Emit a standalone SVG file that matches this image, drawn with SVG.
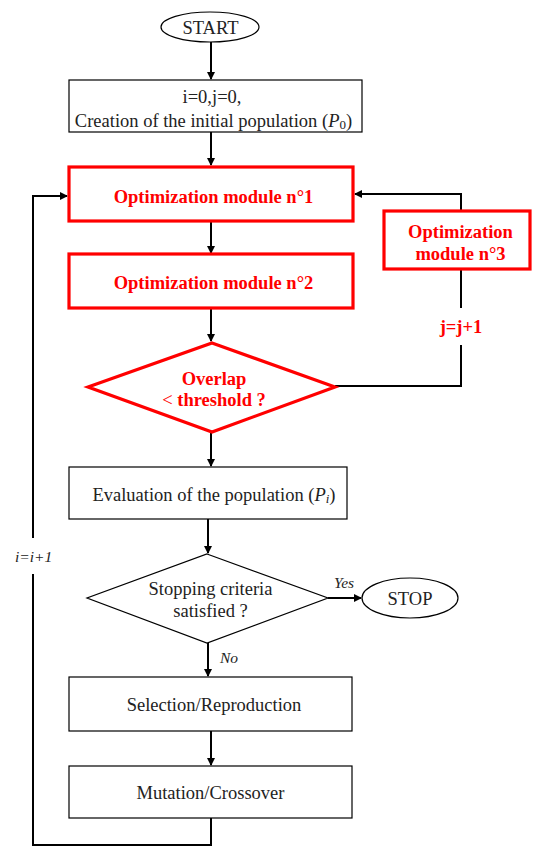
<svg xmlns="http://www.w3.org/2000/svg" width="533" height="848" viewBox="0 0 533 848">
<style>
.b{fill:#fff;stroke:#000;stroke-width:1.2}
.r{fill:#fff;stroke:#f00;stroke-width:3.2}
.t{font-family:"Liberation Serif",serif;font-size:18.5px;fill:#222;text-anchor:middle}
.rt{font-family:"Liberation Serif",serif;font-size:18.5px;font-weight:bold;fill:#f00;text-anchor:middle}
.it{font-family:"Liberation Serif",serif;font-size:15.5px;font-style:italic;fill:#222}
.c{fill:none;stroke:#000;stroke-width:2}
</style>
<defs>
<marker id="a" markerWidth="8" markerHeight="8" refX="7" refY="4" orient="auto" markerUnits="userSpaceOnUse">
<path d="M0,0 L8,4 L0,8 z" fill="#000"/>
</marker>
</defs>
<g id="connectors">
<line class="c" x1="211" y1="42" x2="211" y2="79" marker-end="url(#a)"/>
<line class="c" x1="211" y1="132" x2="211" y2="165" marker-end="url(#a)"/>
<line class="c" x1="211" y1="221" x2="211" y2="253" marker-end="url(#a)"/>
<line class="c" x1="211" y1="308" x2="211" y2="341" marker-end="url(#a)"/>
<line class="c" x1="211" y1="432" x2="211" y2="466" marker-end="url(#a)"/>
<line class="c" x1="208" y1="519" x2="208" y2="553" marker-end="url(#a)"/>
<line class="c" x1="328" y1="598" x2="361" y2="598" marker-end="url(#a)"/>
<line class="c" x1="208" y1="643" x2="208" y2="676" marker-end="url(#a)"/>
<line class="c" x1="211" y1="731" x2="211" y2="765" marker-end="url(#a)"/>
<path class="c" d="M461,211 V194 H355" marker-end="url(#a)"/>
<path class="c" d="M461,269 V308"/>
<path class="c" d="M461,345 V386 H335"/>
<path class="c" d="M211,818 V845 H33 V574"/>
<path class="c" d="M33,538 V196 H67" marker-end="url(#a)"/>
<text class="rt" x="461" y="333">j=j+1</text>
<text class="it" x="15" y="562">i=i+1</text>
<text class="it" x="334" y="588">Yes</text>
<text class="it" x="220" y="663">No</text>
</g>
<g id="start">
<ellipse class="b" cx="210" cy="27" rx="49" ry="15"/>
<text class="t" x="210.5" y="33.5">START</text>
</g>
<g id="init">
<rect class="b" x="69" y="80" width="293" height="52"/>
<text class="t" x="212" y="103">i=0,j=0,</text>
<text class="t" x="213.5" y="127">Creation of the initial population (<tspan font-style="italic">P</tspan><tspan font-size="13" dy="2">0</tspan><tspan dy="-2">)</tspan></text>
</g>
<g id="opt1">
<rect class="r" x="69" y="167" width="284" height="54"/>
<text class="rt" x="213.5" y="203">Optimization module n°1</text>
</g>
<g id="opt2">
<rect class="r" x="69" y="254" width="284" height="54"/>
<text class="rt" x="213.5" y="289">Optimization module n°2</text>
</g>
<g id="opt3">
<rect class="r" x="384" y="211" width="146" height="58"/>
<text class="rt" x="460.5" y="238">Optimization</text>
<text class="rt" x="460.5" y="260">module n°3</text>
</g>
<g id="overlap">
<polygon class="r" points="212,343 335,387 212,432 88,387"/>
<text class="rt" x="214" y="385">Overlap</text>
<text class="rt" x="214" y="406"><tspan font-weight="normal">&lt;</tspan> threshold ?</text>
</g>
<g id="eval">
<rect class="b" x="69" y="467" width="278" height="52"/>
<text class="t" x="214" y="501">Evaluation of the population (<tspan font-style="italic">P</tspan><tspan font-style="italic" font-size="13" dy="2">i</tspan><tspan dy="-2">)</tspan></text>
</g>
<g id="stopping">
<polygon class="b" points="207,554 328,598 207,643 87,598"/>
<text class="t" x="210.5" y="595">Stopping criteria</text>
<text class="t" x="210.5" y="617">satisfied ?</text>
</g>
<g id="stop">
<ellipse class="b" cx="410" cy="598" rx="48" ry="20"/>
<text class="t" x="410" y="605">STOP</text>
</g>
<g id="selection">
<rect class="b" x="69" y="677" width="283" height="54"/>
<text class="t" x="214" y="711">Selection/Reproduction</text>
</g>
<g id="mutation">
<rect class="b" x="69" y="766" width="283" height="52"/>
<text class="t" x="210.5" y="799">Mutation/Crossover</text>
</g>
</svg>
